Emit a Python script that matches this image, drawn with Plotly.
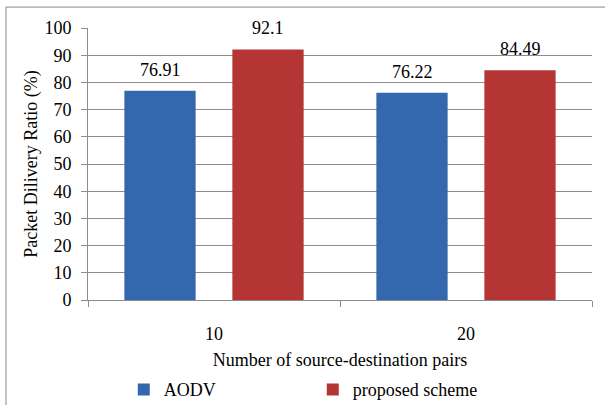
import plotly.graph_objects as go

categories = ["10", "20"]
aodv = [76.91, 76.22]
proposed = [92.1, 84.49]
y_ticks = [0, 10, 20, 30, 40, 50, 60, 70, 80, 90, 100]

FONT = "Times New Roman, Liberation Serif, DejaVu Serif, serif"
BAR_OFFSET_PX = 54  # half the slot width of a bar within its group

fig = go.Figure()
fig.add_trace(go.Bar(
    name="AODV", x=categories, y=aodv,
    marker=dict(color="#3368ae", line=dict(width=0)),
))
fig.add_trace(go.Bar(
    name="proposed scheme", x=categories, y=proposed,
    marker=dict(color="#b53434", line=dict(width=0)),
))

# value labels above each bar
annotations = []
for values, shift in ((aodv, -BAR_OFFSET_PX), (proposed, BAR_OFFSET_PX)):
    for i, v in enumerate(values):
        annotations.append(dict(
            x=i, y=v, xref="x", yref="y", text=str(v), showarrow=False,
            xshift=shift, yshift=9, yanchor="bottom",
            font=dict(family=FONT, size=18, color="#000"),
        ))

fig.update_layout(
    width=605, height=405,
    margin=dict(l=88, r=13, t=28, b=105, autoexpand=False),
    paper_bgcolor="white", plot_bgcolor="white",
    font=dict(family=FONT, size=18, color="#000"),
    barmode="group", bargap=0.143, bargroupgap=0.34,
    showlegend=True,
    legend=dict(orientation="h", x=0.071, y=-0.33, xanchor="left", yanchor="middle",
                font=dict(family=FONT, size=18, color="#000"), entrywidth=144, entrywidthmode="pixels",
                itemwidth=30, tracegroupgap=0),
    annotations=annotations,
    shapes=[dict(type="rect", xref="paper", yref="paper",
                 x0=-0.1627, x1=1.1, y0=-0.5, y1=1.077,
                 line=dict(color="#888", width=1), fillcolor="rgba(0,0,0,0)", layer="below")],
)
fig.update_yaxes(
    range=[0, 100], tickvals=y_ticks, showgrid=True, gridcolor="#8c8c8c", gridwidth=1,
    showline=True, linecolor="#8c8c8c", linewidth=1, ticks="outside", ticklen=6,
    tickcolor="#8c8c8c", ticklabelstandoff=6, tickfont=dict(family=FONT, size=18, color="#000"),
    title=dict(text="Packet Dilivery Ratio (%)", font=dict(family=FONT, size=18, color="#000"), standoff=2),
    zeroline=False,
)
fig.update_xaxes(
    type="category",
    showline=True, linecolor="#8c8c8c", linewidth=1, ticks="outside", ticklen=6,
    tickcolor="#8c8c8c", tickson="boundaries", ticklabelstandoff=17,
    tickfont=dict(family=FONT, size=18, color="#000"),
    title=dict(text="Number of source-destination pairs", font=dict(family=FONT, size=18, color="#000"), standoff=10),
)

fig.write_html("out.html")
